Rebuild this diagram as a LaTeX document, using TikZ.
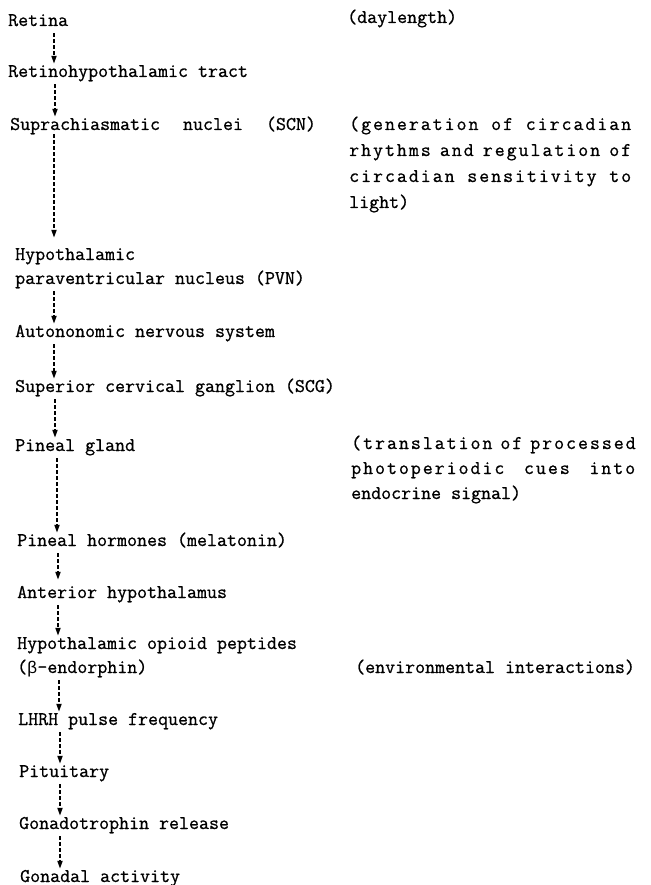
\documentclass[tikz,border=0pt]{standalone}
\usepackage{fontspec}
\setmonofont{Latin Modern Mono}[FakeBold=0.8]
\newfontfamily\monospaced{Latin Modern Mono}[FakeBold=0.8,LetterSpace=10]
\newfontfamily\greekmono{Liberation Mono}
\usetikzlibrary{arrows.meta}

\begin{document}
\begin{tikzpicture}[x=1pt,y=1pt,
  stage/.style={anchor=base west, inner sep=0pt,
    font=\ttfamily\fontsize{19.4}{22}\selectfont, text height=10pt, text depth=4pt},
  note/.style={anchor=base west, inner sep=0pt,
    font=\ttfamily\fontsize{19.4}{22}\selectfont},
  notejust/.style={anchor=base west, inner sep=0pt,
    font=\monospaced\fontsize{19.4}{22}\selectfont},
  flow/.style={line width=1.8pt, dash pattern=on 4pt off 2pt,
    -{Triangle[width=5pt,length=8pt]}, shorten <=3pt, shorten >=3pt}]
\useasboundingbox (0,0) rectangle (650,-885);

% pathway, top to bottom
\node[stage] (retina) at (8,-26)  {Retina};
\node[stage] (rht)    at (8,-77)  {Retinohypothalamic tract};
\node[stage] (scn)    at (10,-130) {Suprachiasmatic\hspace*{23pt}nuclei\hspace*{23pt}(SCN)};
\node[stage] (hyp)    at (15,-260) {Hypothalamic};
\node[stage] (pvn)    at (15,-284) {paraventricular nucleus (PVN)};
\node[stage] (ans)    at (15,-337) {Autononomic nervous system};
\node[stage] (scg)    at (15,-392) {Superior cervical ganglion (SCG)};
\node[stage] (pin)    at (15,-451) {Pineal gland};
\node[stage] (horm)   at (17,-546) {Pineal hormones (melatonin)};
\node[stage] (ant)    at (17,-598) {Anterior hypothalamus};
\node[stage] (opi)    at (17,-649) {Hypothalamic opioid peptides};
\node[stage] (bend)   at (17,-673) {({\greekmono\fontsize{17}{20}\selectfont β}-endorphin)};
\node[stage] (lhrh)   at (18,-725) {LHRH pulse frequency};
\node[stage] (pit)    at (19,-777) {Pituitary};
\node[stage] (gon)    at (19,-829) {Gonadotrophin release};
\node[stage] (act)    at (20,-882) {Gonadal activity};

% side remarks
\node[note] (day) at (347,-23) {(daylength)};
\node[notejust] (gen1) at (349,-130) {\makebox[282pt][s]{(generation of circadian}};
\node[notejust] (gen2) at (349,-156) {\makebox[282pt][s]{rhythms and regulation of}};
\node[notejust] (gen3) at (349,-182) {\makebox[282pt][s]{circadian sensitivity to}};
\node[note]     (gen4) at (349,-208) {light)};
\node[notejust] (tr1) at (351,-449) {\makebox[284pt][s]{(translation of processed}};
\node[notejust] (tr2) at (351,-474) {\makebox[284pt][s]{photoperiodic cues into}};
\node[note]     (tr3) at (351,-499) {endocrine signal)};
\node[note]     (env) at (355,-673) {(environmental interactions)};

% dashed arrows between stages
\newcommand\link[4][]{%
  \coordinate (lx) at (#4,0);
  \draw[flow,#1] (#2.south -| lx) -- (#3.north -| lx);}
\link{retina}{rht}{54}
\link{rht}{scn}{55}
\link[shorten <=0pt, shorten >=12pt]{scn}{hyp}{54}
\link{pvn}{ans}{54}
\link{ans}{scg}{54}
\link{scg}{pin}{55}
\link{pin}{horm}{57}
\link[shorten >=8pt]{horm}{ant}{58}
\link{ant}{opi}{58}
\link{bend}{lhrh}{59}
\link{lhrh}{pit}{60}
\link{pit}{gon}{60}
\link{gon}{act}{60}
\end{tikzpicture}
\end{document}
